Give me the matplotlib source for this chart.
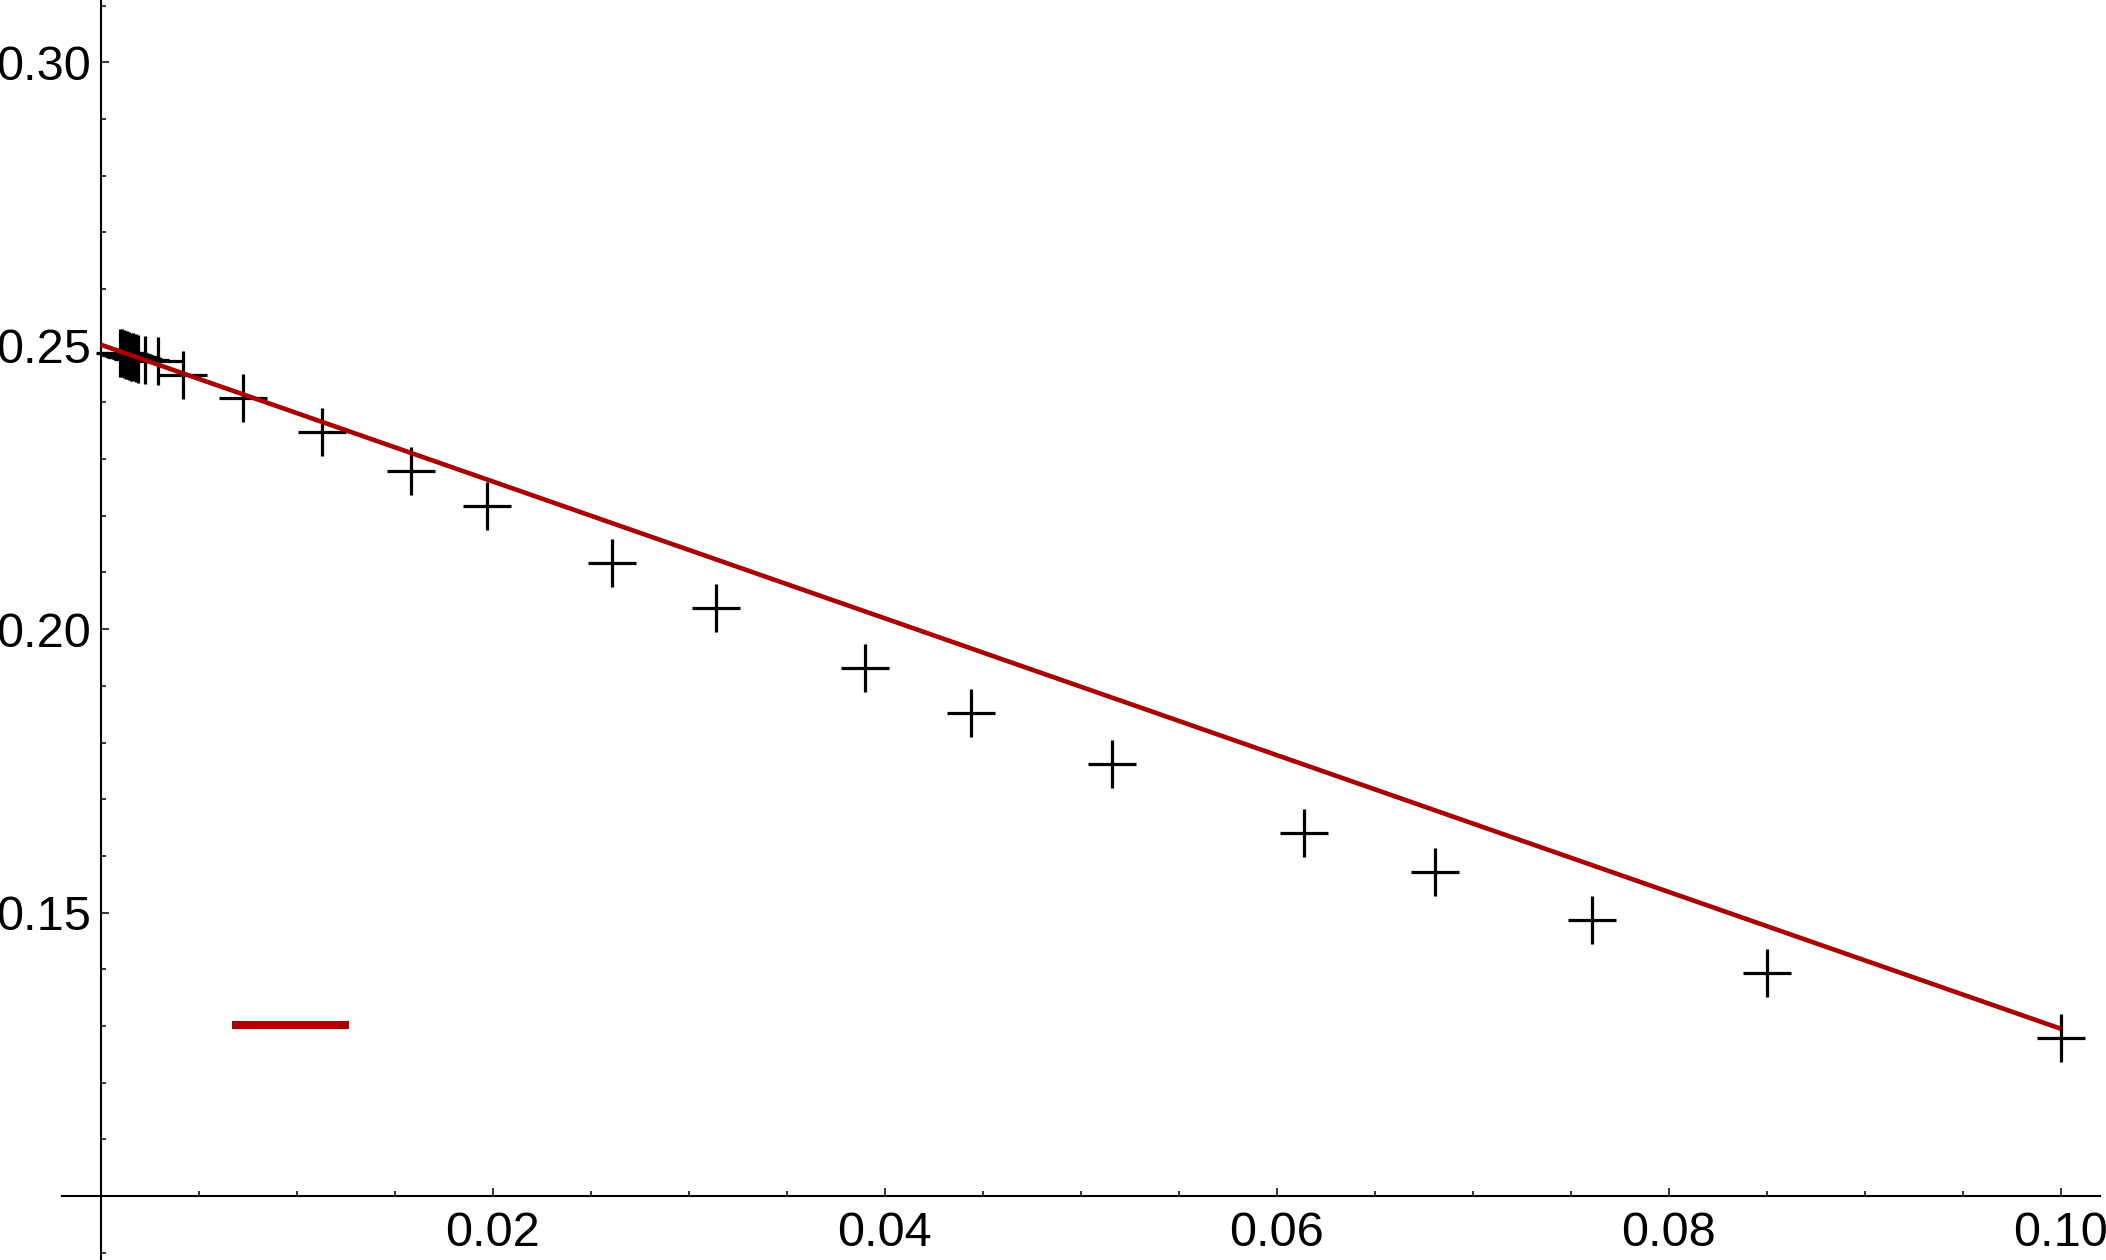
import numpy as np
import matplotlib
matplotlib.use("Agg")
import matplotlib.pyplot as plt
from matplotlib.lines import Line2D
from matplotlib.ticker import MultipleLocator

plt.rcParams['font.family'] = ['Liberation Sans', 'DejaVu Sans']

x_data = [0.00097, 0.00107, 0.00117, 0.00127, 0.00137, 0.00147, 0.00157, 0.00167,
          0.00178, 0.00189, 0.00228, 0.00292, 0.00418, 0.00724, 0.01129, 0.01583,
          0.01971, 0.0261, 0.0314, 0.0390, 0.0444, 0.0516, 0.0614, 0.0681,
          0.0761, 0.0850, 0.1000]
y_data = [0.24876, 0.24865, 0.24853, 0.24842, 0.24830, 0.24818, 0.24806, 0.24794,
          0.24782, 0.24770, 0.24753, 0.24723, 0.24488, 0.24081, 0.23486, 0.22792,
          0.22178, 0.2117, 0.2038, 0.1931, 0.1852, 0.1762, 0.1640, 0.1571,
          0.1486, 0.1393, 0.1279]

# fitted line end points
x_fit = [0.0, 0.1]
y_fit = [0.2502, 0.1295]

x_major = [0.02, 0.04, 0.06, 0.08, 0.10]
y_major = [0.15, 0.20, 0.25, 0.30]

red = '#aa0000'

fig = plt.figure(figsize=(21.06, 12.6), dpi=100)
ax = fig.add_axes([62 / 2106, 0.0, (2100 - 62) / 2106, 1.0])

ax.plot(x_data, y_data, linestyle='none', marker='+', markersize=34.5,
        markeredgewidth=2.3, color='black', zorder=3, clip_on=False)
ax.plot(x_fit, y_fit, color=red, lw=3.3, zorder=4, solid_capstyle='butt')

ax.set_xlim(-0.00197, 0.1020)
ax.set_ylim(0.0887, 0.3110)

for s in ['top', 'right']:
    ax.spines[s].set_visible(False)
ax.spines['left'].set_position(('data', 0.0))
ax.spines['bottom'].set_position(('data', 0.10))
ax.spines['left'].set_linewidth(1.5)
ax.spines['bottom'].set_linewidth(1.5)

ax.set_xticks(x_major)
ax.set_xticklabels(['%.2f' % v for v in x_major])
ax.set_yticks(y_major)
ax.set_yticklabels(['%.2f' % v for v in y_major])
ax.xaxis.set_minor_locator(MultipleLocator(0.005))
ax.yaxis.set_minor_locator(MultipleLocator(0.01))

ax.tick_params(which='major', direction='in', length=6, width=1.1, labelsize=35)
ax.tick_params(which='minor', direction='in', length=3.8, width=1.1)
ax.tick_params(axis='x', which='major', pad=11)
ax.tick_params(axis='y', which='major', pad=7)

handle = Line2D([], [], color=red, lw=5.8, solid_capstyle='butt')
ax.legend([handle], [''], loc='center left', bbox_to_anchor=(0.0834, 0.1857),
          frameon=False, borderpad=0, borderaxespad=0, handletextpad=0,
          handlelength=8.4, prop={'size': 10})

fig.savefig('out.png', dpi=100)
